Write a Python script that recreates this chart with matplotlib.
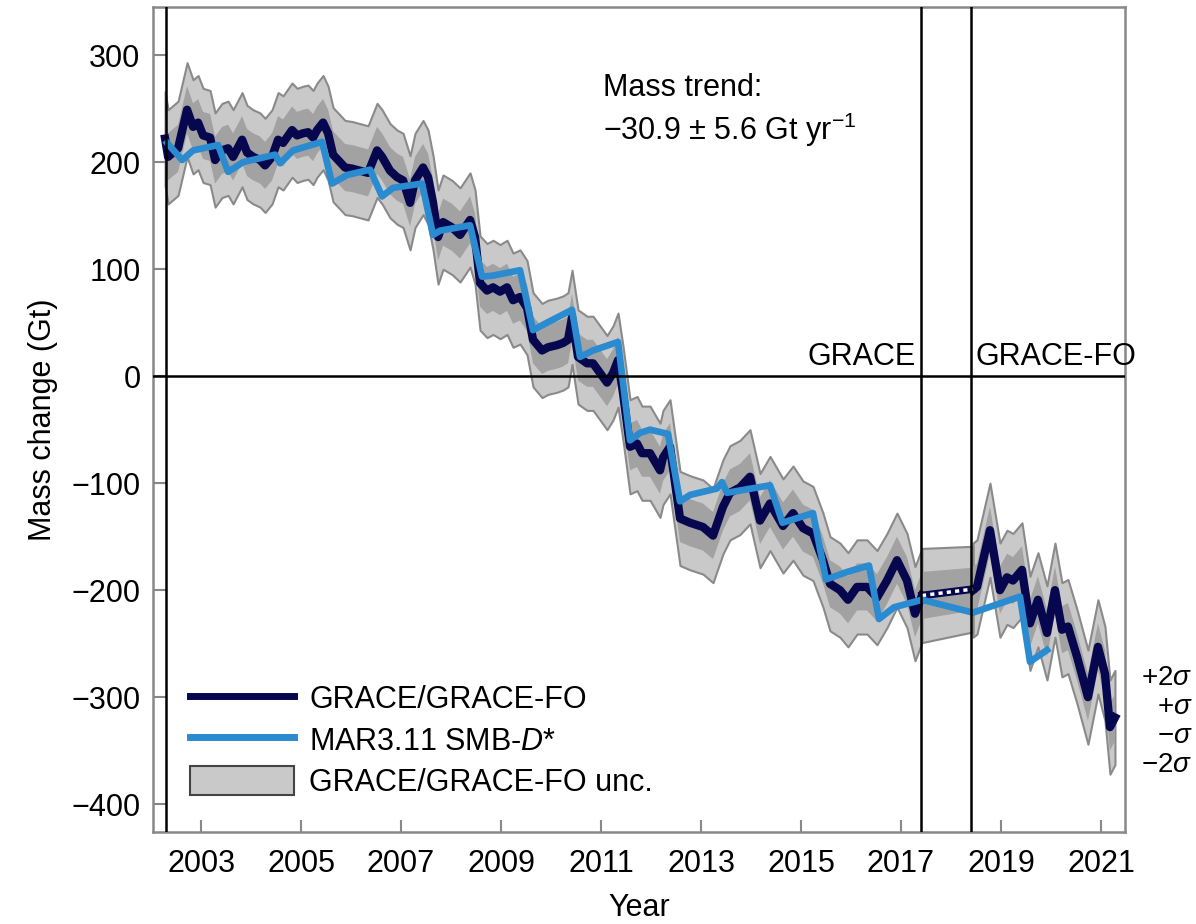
import numpy as np
import matplotlib.pyplot as plt
from matplotlib.patches import Patch
from matplotlib.lines import Line2D

plt.rcParams['font.family'] = ['Liberation Sans', 'DejaVu Sans']
plt.rcParams['mathtext.fontset'] = 'custom'
plt.rcParams['mathtext.rm'] = 'Liberation Sans'
plt.rcParams['mathtext.it'] = 'Liberation Sans:italic'
plt.rcParams['font.size'] = 22

# GRACE (2002-2017) monthly mass change, Gt
grace_year = [2002.28, 2002.34, 2002.54, 2002.72, 2002.84, 2002.94, 2003.04, 2003.18,
              2003.28, 2003.42, 2003.54, 2003.64, 2003.82, 2003.92, 2004.04, 2004.18,
              2004.28, 2004.42, 2004.54, 2004.64, 2004.82, 2004.92, 2005.04, 2005.14,
              2005.24, 2005.32, 2005.44, 2005.54, 2005.64, 2005.74, 2005.88, 2006.02,
              2006.18, 2006.34, 2006.52, 2006.62, 2006.78, 2006.92, 2007.04, 2007.18,
              2007.28, 2007.44, 2007.54, 2007.64, 2007.74, 2007.84, 2008.02, 2008.18,
              2008.38, 2008.48, 2008.58, 2008.72, 2008.84, 2008.98, 2009.12, 2009.24,
              2009.38, 2009.52, 2009.64, 2009.82, 2009.94, 2010.12, 2010.24, 2010.34,
              2010.42, 2010.54, 2010.72, 2010.84, 2010.98, 2011.12, 2011.24, 2011.34,
              2011.44, 2011.58, 2011.72, 2011.82, 2011.98, 2012.18, 2012.24, 2012.38,
              2012.58, 2012.78, 2013.04, 2013.24, 2013.44, 2013.58, 2013.78, 2013.98,
              2014.18, 2014.38, 2014.64, 2014.84, 2015.04, 2015.24, 2015.44, 2015.58,
              2015.78, 2015.94, 2016.12, 2016.32, 2016.52, 2016.72, 2016.92, 2017.12,
              2017.28, 2017.42]
grace_mass = [222, 205, 213, 249, 233, 237, 225, 223,
              202, 211, 213, 205, 221, 209, 205, 202,
              197, 205, 221, 218, 230, 225, 227, 228,
              223, 230, 237, 227, 207, 202, 195, 194,
              192, 190, 211, 205, 192, 186, 183, 162,
              183, 195, 186, 162, 130, 144, 139, 132,
              146, 130, 87, 80, 83, 79, 83, 71,
              74, 64, 34, 24, 27, 29, 31, 34,
              55, 18, 12, 12, 3, -6, 3, 15,
              -16, -66, -63, -72, -72, -88, -76, -66,
              -133, -137, -141, -149, -122, -109, -104, -94,
              -135, -119, -140, -128, -142, -147, -172, -194,
              -200, -209, -197, -197, -207, -191, -172, -191,
              -222, -205]

# GRACE-FO (2018-2021)
fo_year = [2018.44, 2018.52, 2018.78, 2018.98, 2019.12, 2019.24, 2019.42, 2019.58,
           2019.74, 2019.92, 2020.08, 2020.22, 2020.34, 2020.52, 2020.74, 2020.94,
           2021.08, 2021.18, 2021.28]
fo_mass = [-200, -197, -144, -200, -188, -191, -181, -231,
           -209, -240, -200, -237, -234, -262, -300, -253,
           -278, -328, -319]

# 1-sigma uncertainty, Gt
sigma = 22

# bridge across the GRACE / GRACE-FO gap
gap_year = [2017.42, 2018.44]
gap_mass = [-205, -199]
gap_sigma = [22, 20]

# MAR3.11 SMB - D*
mar_year = [2002.32, 2002.62, 2002.84, 2003.34, 2003.54, 2003.84, 2004.48, 2004.58,
            2004.84, 2005.42, 2005.62, 2005.92, 2006.38, 2006.62, 2006.84, 2007.42,
            2007.64, 2007.78, 2008.38, 2008.62, 2008.84, 2009.38, 2009.64, 2009.92,
            2010.42, 2010.58, 2010.84, 2011.34, 2011.58, 2011.78, 2011.98, 2012.34,
            2012.58, 2012.78, 2013.32, 2013.42, 2013.52, 2014.38, 2014.63, 2015.24,
            2015.50, 2015.92, 2016.36, 2016.56, 2016.86, 2017.42, 2018.44, 2019.38,
            2019.58, 2019.92]
mar_mass = [218, 202, 211, 216, 191, 200, 207, 199,
            211, 219, 180, 188, 193, 168, 176, 180,
            132, 136, 141, 93, 94, 99, 43, 50,
            62, 18, 24, 32, -60, -53, -50, -54,
            -117, -111, -105, -99, -109, -102, -137, -128,
            -190, -183, -177, -227, -216, -209, -221, -206,
            -267, -256]

mission_edges = [2002.3, 2017.41, 2018.41]

navy = '#07074f'
blue = '#2a8bd0'
light = '#c9c9c9'
mid = '#a2a2a2'
edge = '#8a8a8a'

fig = plt.figure(figsize=(11.96, 9.24), dpi=100)
ax = fig.add_axes([0.128, 0.0996, 0.8126, 0.8928])

for yr, m in [(grace_year, grace_mass), (fo_year, fo_mass)]:
    yr = np.array(yr)
    m = np.array(m)
    ax.fill_between(yr, m - 2 * sigma, m + 2 * sigma, facecolor=light, edgecolor=edge, lw=1.5, zorder=1)
    ax.fill_between(yr, m - sigma, m + sigma, facecolor=mid, edgecolor='none', zorder=2)

gy = np.array(gap_year)
gm = np.array(gap_mass)
gs = np.array(gap_sigma)
ax.fill_between(gy, gm - 2 * gs, gm + 2 * gs, facecolor=light, edgecolor=edge, lw=1.5, zorder=1)
ax.fill_between(gy, gm - gs, gm + gs, facecolor=mid, edgecolor='none', zorder=2)

ax.plot(grace_year, grace_mass, color=navy, lw=6, zorder=4, solid_joinstyle='round')
ax.plot(fo_year, fo_mass, color=navy, lw=6, zorder=4, solid_joinstyle='round')
ax.plot(gap_year, gap_mass, color=navy, lw=5.5, zorder=4)
ax.plot(gap_year, gap_mass, color='white', lw=2.5, ls=(0, (1.2, 1.2)), zorder=5)
ax.plot(mar_year, mar_mass, color=blue, lw=4.8, zorder=6, solid_joinstyle='round')

for xv in mission_edges:
    ax.axvline(xv, color='black', lw=1.8, zorder=7)
ax.axhline(0, color='black', lw=1.8, zorder=7)

ax.set_xlim(2002.04, 2021.48)
ax.set_ylim(-426, 345)
ax.set_xticks(range(2003, 2022, 2))
ax.set_yticks(range(-400, 301, 100))
ax.set_yticklabels([str(v).replace('-', '\u2212') for v in range(-400, 301, 100)])
ax.tick_params(direction='in', length=9, width=1.5, color='#888888', labelsize=22, pad=9)
ax.tick_params(axis='x', pad=12)
for s in ax.spines.values():
    s.set_color('#888888')
    s.set_linewidth(1.8)

ax.set_xlabel('Year', fontsize=22, labelpad=10)
ax.set_ylabel('Mass change (Gt)', fontsize=22, labelpad=10)

ax.text(2011.04, 269, 'Mass trend:', fontsize=22, va='center')
ax.text(2011.04, 230, '\u221230.9 \u00b1 5.6 Gt yr$^{\u22121}$', fontsize=22, va='center')
ax.text(2017.3, 18, 'GRACE', fontsize=22, ha='right', va='center')
ax.text(2018.5, 18, 'GRACE-FO', fontsize=22, ha='left', va='center')

sig_labels = ['$+2\\sigma$', '$+\\sigma$', '$\u2212\\sigma$', '$\u22122\\sigma$']
sig_y = [0.266, 0.235, 0.203, 0.172]
for lab, yy in zip(sig_labels, sig_y):
    fig.text(0.997, yy, lab, fontsize=20, ha='right', va='center')

handles = [Line2D([], [], color=navy, lw=5),
           Line2D([], [], color=blue, lw=5),
           Patch(facecolor=light, edgecolor='#444444', lw=1.5)]
labels = ['GRACE/GRACE-FO', 'MAR3.11 SMB-$D$*', 'GRACE/GRACE-FO unc.']
ax.legend(handles, labels, loc='lower left', bbox_to_anchor=(0.01, 0.008), frameon=False,
          fontsize=22, handlelength=3.4, handleheight=1.1, labelspacing=0.3, handletextpad=0.5)

fig.savefig('out.png', dpi=100)
